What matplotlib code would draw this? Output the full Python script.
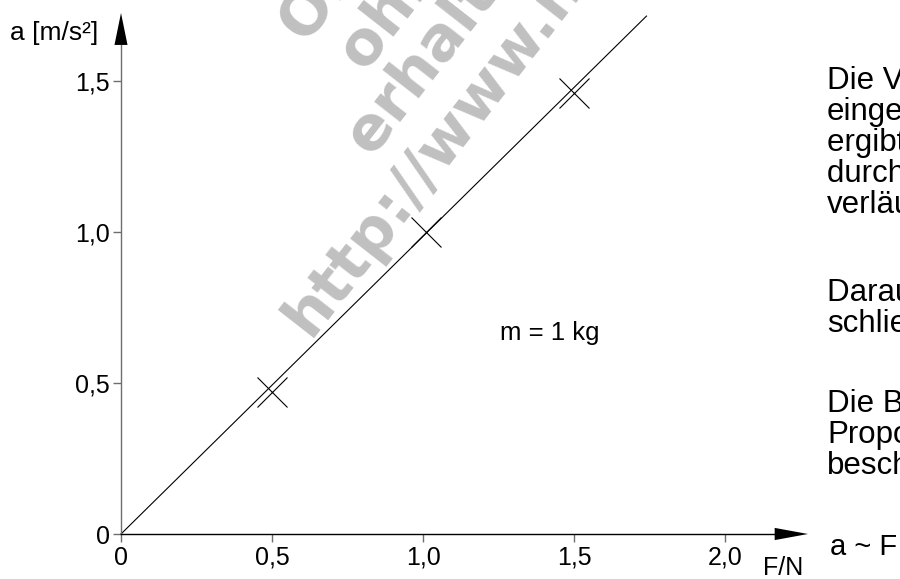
import matplotlib
matplotlib.use("Agg")
import matplotlib.pyplot as plt

plt.rcParams['font.family'] = ['Liberation Sans', 'DejaVu Sans']

# measured points (force in N, acceleration in m/s^2)
force = [0.5, 1.01, 1.5]
accel = [0.47, 1.0, 1.46]

# straight line through the origin
line_F = [0.0, 1.74]
line_a = [0.0, 1.715]

x_ticks = [0, 0.5, 1.0, 1.5, 2.0]
x_labels = ["0", "0,5", "1,0", "1,5", "2,0"]
y_ticks = [0, 0.5, 1.0, 1.5]
y_labels = ["0", "0,5", "1,0", "1,5"]

paragraphs = [
    ["Die Verbindungslinie", "eingetragenen", "ergibt eine", "durch den", "verläuft."],
    ["Daraus kann", "schließen:"],
    ["Die Beziehung", "Proportionalität", "beschrieben:"],
]
para_top = [81, 293, 404]  # pixel rows of first line centres

watermark = ["Original", "ohne Gewähr", "erhalten unter", "http://www.n"]

px = 302.0  # pixels per unit
fig = plt.figure(figsize=(9, 5.79), dpi=100)
ax = fig.add_axes([121 / 900, 45 / 579, 654 / 900, 489 / 579])
ax.set_xlim(0, 654 / px)
ax.set_ylim(0, 489 / px)

for s in ['top', 'right']:
    ax.spines[s].set_visible(False)
ax.spines['left'].set_color('#6e6e6e')
ax.spines['bottom'].set_color('black')
ax.spines['left'].set_linewidth(1.0)
ax.spines['bottom'].set_linewidth(1.0)

ax.set_xticks(x_ticks)
ax.set_xticklabels(x_labels)
ax.set_yticks(y_ticks)
ax.set_yticklabels(y_labels)
ax.tick_params(direction='out', length=5.8, width=1, color='#6e6e6e', labelsize=18)
ax.tick_params(axis='x', pad=2.5)
ax.tick_params(axis='y', pad=2)

# arrow heads
ax.annotate('', xy=(0, 521 / px), xytext=(0, 489 / px),
            arrowprops=dict(arrowstyle='-|>,head_length=1.15,head_width=0.235',
                            mutation_scale=20, color='black', lw=0, shrinkA=0, shrinkB=0),
            annotation_clip=False)
ax.annotate('', xy=(687 / px, 0), xytext=(654 / px, 0),
            arrowprops=dict(arrowstyle='-|>,head_length=1.2,head_width=0.22',
                            mutation_scale=20, color='black', lw=0, shrinkA=0, shrinkB=0),
            annotation_clip=False)

ax.plot(line_F, line_a, color='black', lw=0.8, clip_on=False)
ax.plot(force, accel, ls='none', marker='x', ms=22, mew=0.8, color='black', clip_on=False)

ax.text(-111 / px, 501 / px, "a [m/s²]", fontsize=19, ha='left', va='center', clip_on=False)
ax.text(662 / px, -34 / px, "F/N", fontsize=18, ha='center', va='center', clip_on=False)
ax.text(1.255, 0.666, "m = 1 kg", fontsize=18.5, ha='left', va='center')
ax.text(709 / px, -13 / px, "a ~ F", fontsize=21, ha='left', va='center', clip_on=False)

for top, lines in zip(para_top, paragraphs):
    for i, t in enumerate(lines):
        ax.text(706 / px, (534 - top - 31 * i) / px, t, fontsize=22.5,
                ha='left', va='center', clip_on=False)

# watermark
starts = [(0.609, 1.626), (0.808, 1.526), (0.831, 1.245), (0.626, 0.649)]
for (sx, sy), t in zip(starts, watermark):
    ax.text(sx, sy, t, fontsize=44, fontweight='bold', color='#c0c0c0', rotation=52,
            family='DejaVu Sans', rotation_mode='anchor', ha='left', va='baseline',
            zorder=0, clip_on=False)

fig.savefig("out.png", dpi=100)
